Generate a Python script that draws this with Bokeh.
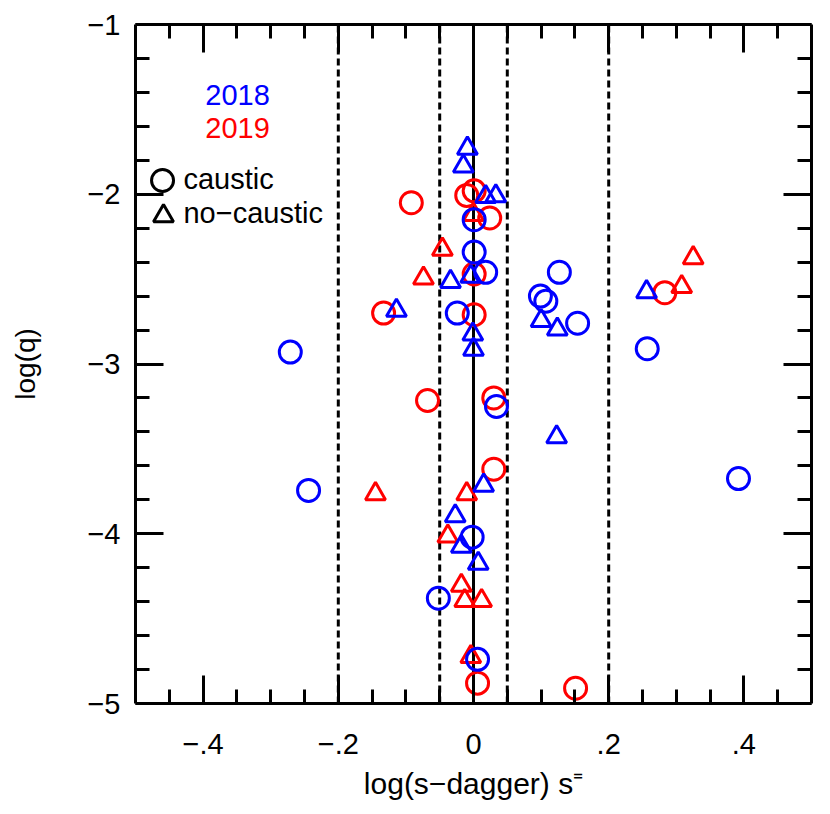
from bokeh.plotting import figure
from bokeh.models import FixedTicker, LinearAxis, Range1d, Label
from bokeh.embed import file_html
from bokeh.resources import INLINE

# ---- data: log(s-dagger) vs log(q) ----
b_circ_x = [-0.271, -0.244, -0.024, 0.001, 0.001, 0.018, 0.034, -0.002, -0.052, 0.006,
            0.099, 0.107, 0.127, 0.154, 0.257, 0.392]
b_circ_y = [-2.93, -3.745, -2.70, -2.15, -2.34, -2.46, -3.25, -4.02, -4.38, -4.74,
            -2.60, -2.63, -2.46, -2.76, -2.91, -3.675]

b_tri_x = [-0.009, -0.015, 0.018, 0.033, -0.034, -0.004, -0.114, -0.001, 0.0, 0.015,
           -0.027, -0.018, 0.007, 0.100, 0.124, 0.123, 0.256]
b_tri_y = [-1.73, -1.835, -2.015, -2.01, -2.515, -2.485, -2.685, -2.825, -2.915, -3.715,
           -3.895, -4.075, -4.175, -2.745, -2.795, -3.43, -2.575]

r_circ_x = [-0.010, 0.001, -0.092, 0.024, 0.001, -0.133, 0.001, -0.068, 0.030, 0.030,
            0.006, 0.151, 0.283]
r_circ_y = [-2.007, -1.98, -2.05, -2.14, -2.47, -2.70, -2.71, -3.215, -3.20, -3.62,
            -4.88, -4.91, -2.58]

r_tri_x = [0.0, -0.046, -0.074, -0.145, -0.010, -0.038, -0.018, -0.013, 0.012, -0.004,
           0.308, 0.325]
r_tri_y = [-2.12, -2.325, -2.495, -3.765, -3.765, -4.015, -4.305, -4.395, -4.395, -4.725,
           -2.545, -2.375]

dashed_x = [-0.2, -0.05, 0.05, 0.2]
solid_x = [0.0]

x_major = [-0.4, -0.2, 0.0, 0.2, 0.4]
x_labels = ["\u2212.4", "\u2212.2", "0", ".2", ".4"]
y_major = [-1, -2, -3, -4, -5]
y_labels = ["\u22121", "\u22122", "\u22123", "\u22124", "\u22125"]

BLUE = "#0000ff"
RED = "#ff0000"
FONT = "Liberation Sans"

p = figure(width=823, height=806, x_range=Range1d(-0.5, 0.5), y_range=Range1d(-5, -1),
           output_backend="svg", toolbar_location=None,
           min_border_left=135, min_border_right=12, min_border_top=24, min_border_bottom=103,
           x_axis_label="log(s\u2212dagger) s\u207c", y_axis_label="log(q)")
p.xgrid.visible = False
p.ygrid.visible = False
p.outline_line_color = None
p.background_fill_color = "white"
p.border_fill_color = "white"

x_minor = [round(-0.45 + 0.05 * i, 2) for i in range(19)]
y_minor = [round(-4.8 + 0.2 * i, 1) for i in range(19)]


def style(ax, ticks, minor, labels):
    ax.ticker = FixedTicker(ticks=ticks, minor_ticks=minor)
    ax.axis_line_width = 3
    ax.axis_line_color = "black"
    ax.major_tick_line_width = 3
    ax.minor_tick_line_width = 3
    ax.major_tick_line_color = "black"
    ax.minor_tick_line_color = "black"
    ax.major_tick_in = 28
    ax.major_tick_out = 0
    ax.minor_tick_in = 14
    ax.minor_tick_out = 0
    ax.major_label_overrides = {t: l for t, l in zip(ticks, labels)}
    ax.major_label_text_font = FONT
    ax.major_label_text_font_size = "29px"
    ax.major_label_text_color = "black"
    ax.axis_label_text_font = FONT
    ax.axis_label_text_font_size = "28px"
    ax.axis_label_text_font_style = "normal"
    ax.axis_label_text_color = "black"


style(p.xaxis[0], x_major, x_minor, x_labels)
style(p.yaxis[0], y_major, y_minor, y_labels)
p.xaxis[0].major_label_standoff = 30
p.xaxis[0].axis_label_standoff = 10
p.xaxis[0].axis_label_text_font_size = "30px"
p.yaxis[0].major_label_standoff = 15
p.yaxis[0].axis_label_standoff = 43

top = LinearAxis()
style(top, x_major, x_minor, [""] * len(x_major))
top.major_label_standoff = 0
p.add_layout(top, "above")
right = LinearAxis()
style(right, y_major, y_minor, [""] * len(y_major))
right.major_label_standoff = 0
p.add_layout(right, "right")

# reference lines
p.segment(x0=dashed_x, x1=dashed_x, y0=[-5] * len(dashed_x), y1=[-1] * len(dashed_x),
          line_color="black", line_width=3, line_dash="7 4")
p.segment(x0=solid_x, x1=solid_x, y0=[-5], y1=[-1], line_color="black", line_width=3)

# points
p.scatter(r_circ_x, r_circ_y, marker="circle", size=22, fill_color=None, line_color=RED, line_width=3)
p.scatter(r_tri_x, r_tri_y, marker="triangle", size=20, fill_color=None, line_color=RED, line_width=3)
p.scatter(b_circ_x, b_circ_y, marker="circle", size=22, fill_color=None, line_color=BLUE, line_width=3)
p.scatter(b_tri_x, b_tri_y, marker="triangle", size=20, fill_color=None, line_color=BLUE, line_width=3)

# legend
p.add_layout(Label(x=-0.349, y=-1.418, text="2018", text_color=BLUE, text_align="center",
                   text_baseline="alphabetic", text_font=FONT, text_font_size="29px"))
p.add_layout(Label(x=-0.349, y=-1.607, text="2019", text_color=RED, text_align="center",
                   text_baseline="alphabetic", text_font=FONT, text_font_size="29px"))
p.scatter([-0.460], [-1.919], marker="circle", size=22, fill_color=None, line_color="black", line_width=3)
p.scatter([-0.4586], [-2.128], marker="triangle", size=20, fill_color=None, line_color="black", line_width=3)
p.add_layout(Label(x=-0.429, y=-1.908, text="caustic", text_color="black", text_align="left",
                   text_baseline="alphabetic", text_font=FONT, text_font_size="29px"))
p.add_layout(Label(x=-0.429, y=-2.113, text="no\u2212caustic", text_color="black", text_align="left",
                   text_baseline="alphabetic", text_font=FONT, text_font_size="29px"))

open("out.html", "w").write(file_html(p, INLINE))
